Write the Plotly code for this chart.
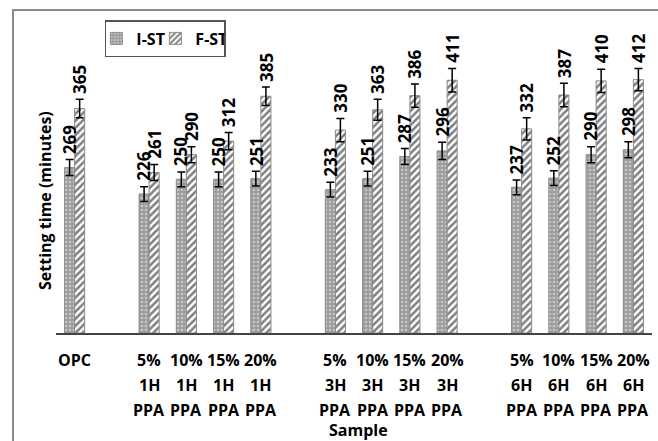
import plotly.graph_objects as go

# Sample groups (label lines: dosage / heating time / additive)
groups = [
    [("OPC", "", "")],
    [("5%", "1H", "PPA"), ("10%", "1H", "PPA"), ("15%", "1H", "PPA"), ("20%", "1H", "PPA")],
    [("5%", "3H", "PPA"), ("10%", "3H", "PPA"), ("15%", "3H", "PPA"), ("20%", "3H", "PPA")],
    [("5%", "6H", "PPA"), ("10%", "6H", "PPA"), ("15%", "6H", "PPA"), ("20%", "6H", "PPA")],
]

# Initial and final setting times (minutes)
i_st = [269, 226, 250, 250, 251, 233, 251, 287, 296, 237, 252, 290, 298]
f_st = [365, 261, 290, 312, 385, 330, 363, 386, 411, 332, 387, 410, 412]
i_err = [13, 12, 12, 12, 12, 12, 12, 13, 14, 12, 12, 13, 13]
f_err = [15, 13, 13, 14, 15, 19, 17, 19, 19, 18, 19, 19, 18]

# slot positions with one empty slot between groups
xpos, labels = [], []
slot = 0
for g in groups:
    for lab in g:
        xpos.append(slot)
        labels.append(lab)
        slot += 1
    slot += 1

BW = 0.27
FONT = "Open Sans"

fig = go.Figure()
fig.add_trace(go.Bar(
    name="I-ST", x=xpos, y=i_st, width=BW, offset=-BW,
    marker=dict(color="#a0a0a0", line=dict(color="#8a8a8a", width=1),
                pattern=dict(shape=".", fgcolor="#f0f0f0", bgcolor="#9c9c9c",
                             size=4, solidity=0.35)),
    error_y=dict(type="data", array=i_err, color="black", thickness=1.5, width=4),
))
fig.add_trace(go.Bar(
    name="F-ST", x=xpos, y=f_st, width=BW, offset=0,
    marker=dict(color="white", line=dict(color="#8a8a8a", width=1),
                pattern=dict(shape="/", fgcolor="black", bgcolor="white",
                             size=5, solidity=0.5)),
    error_y=dict(type="data", array=f_err, color="black", thickness=1.5, width=4),
))

# vertical value labels sitting just above each error bar
annotations = []
lab_font = dict(family=FONT, size=17, color="black", weight="bold")
for off, vals, errs in ((-BW / 2, i_st, i_err), (BW / 2, f_st, f_err)):
    for x, v, e in zip(xpos, vals, errs):
        annotations.append(dict(x=x + off, y=v + e, text=str(v), textangle=-90,
                                showarrow=False, xanchor="center", yanchor="middle",
                                yshift=20, font=lab_font))

# category labels, one line each
tick_font = dict(family=FONT, size=16, color="black", weight="bold")
for x, lab in zip(xpos, labels):
    for k, line in enumerate(lab):
        if line:
            annotations.append(dict(x=x, y=0, xref="x", yref="paper", text=line,
                                    showarrow=False, xanchor="center", yanchor="middle",
                                    yshift=-27 - 25 * k, font=tick_font))

annotations.append(dict(x=0.508, y=-0.31, xref="paper", yref="paper", text="Sample",
                        showarrow=False, xanchor="center", yanchor="middle",
                        font=tick_font))
annotations.append(dict(x=-0.0185, y=0.425, xref="paper", yref="paper",
                        text="Setting time (minutes)", textangle=-90,
                        showarrow=False, xanchor="center", yanchor="middle",
                        font=tick_font))

fig.update_layout(
    width=658, height=441,
    margin=dict(l=56, r=6, t=20, b=108),
    paper_bgcolor="white", plot_bgcolor="white",
    barmode="overlay",
    showlegend=True,
    legend=dict(orientation="h", x=0.082, y=1.0, xanchor="left", yanchor="top",
                bordercolor="#555", borderwidth=1.5, bgcolor="white",
                font=dict(family=FONT, size=16, color="black", weight="bold"),
                itemwidth=30, entrywidth=24, indentation=-10, tracegroupgap=0),
    xaxis=dict(range=[-0.5, 15.5], showticklabels=False, ticks="", showgrid=False,
               zeroline=False, showline=True, linecolor="#444", linewidth=2),
    yaxis=dict(range=[0, 509], visible=False, showgrid=False, zeroline=False),
    annotations=annotations,
    shapes=[dict(type="rect", xref="paper", yref="paper",
                 x0=-0.0721, x1=1.2, y0=-0.6, y1=1.032,
                 line=dict(color="#8c8c8c", width=2), fillcolor="rgba(0,0,0,0)",
                 layer="below")],
)

fig.write_html("out.html")
